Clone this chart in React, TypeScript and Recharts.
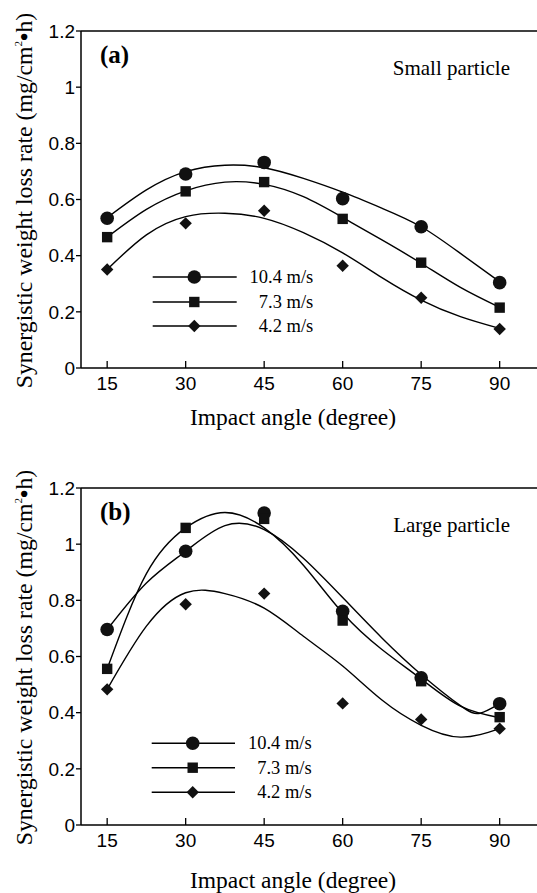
import { ComposedChart, Line, XAxis, YAxis, ReferenceLine } from 'recharts';

// measured impact angles (degree)
const angles = [15, 30, 45, 60, 75, 90];

// (a) small particle, measured rates
const smallFast = [0.533, 0.691, 0.732, 0.603, 0.503, 0.304];
const smallMid = [0.466, 0.629, 0.662, 0.531, 0.375, 0.215];
const smallSlow = [0.351, 0.515, 0.56, 0.364, 0.25, 0.139];

// (b) large particle, measured rates
const largeFast = [0.696, 0.975, 1.111, 0.761, 0.524, 0.432];
const largeMid = [0.556, 1.058, 1.09, 0.728, 0.512, 0.384];
const largeSlow = [0.483, 0.786, 0.824, 0.433, 0.376, 0.343];

// fitted curves
const fitAngles = [15, 22.5, 30, 37.5, 45, 52.5, 60, 67.5, 75, 82.5, 90];
const smallFastFit = [0.535, 0.634, 0.699, 0.722, 0.713, 0.675, 0.626, 0.569, 0.503, 0.408, 0.307];
const smallMidFit = [0.466, 0.565, 0.631, 0.662, 0.654, 0.61, 0.536, 0.456, 0.373, 0.287, 0.216];
const smallSlowFit = [0.351, 0.474, 0.539, 0.551, 0.533, 0.482, 0.41, 0.322, 0.242, 0.183, 0.141];

const largeFastAngles = [15, 22.5, 30, 37.5, 45, 52.5, 60, 67.5, 75, 82.5, 86.25, 90];
const largeFastFit = [0.696, 0.862, 0.975, 1.066, 1.052, 0.95, 0.81, 0.666, 0.536, 0.425, 0.398, 0.432];
const largeMidFit = [0.556, 0.895, 1.058, 1.113, 1.058, 0.925, 0.755, 0.625, 0.52, 0.423, 0.382];
const largeSlowFit = [0.483, 0.708, 0.827, 0.824, 0.772, 0.672, 0.566, 0.445, 0.355, 0.313, 0.343];

const speeds = ['10.4 m/s', '7.3 m/s', '4.2 m/s'];
const xTicks = [15, 30, 45, 60, 75, 90];
const yTicks = [0, 0.2, 0.4, 0.6, 0.8, 1, 1.2];

const rows = (xs: number[], vs: number[]) => xs.map((x, i) => ({ x, v: vs[i] }));

const SERIF = '"Liberation Serif", "Times New Roman", serif';
const SANS = '"Liberation Sans", Arial, sans-serif';

function Marker({ kind, cx, cy }: { kind: number; cx: number; cy: number }) {
  if (cx == null || cy == null) return null;
  if (kind === 0) return <circle cx={cx} cy={cy} r={6.8} fill="#111" />;
  if (kind === 1) return <rect x={cx - 5.2} y={cy - 5.2} width={10.4} height={10.4} fill="#111" />;
  const d = 6.2;
  return <polygon points={`${cx},${cy - d} ${cx + d},${cy} ${cx},${cy + d} ${cx - d},${cy}`} fill="#111" />;
}

const dotFor = (kind: number) => (p: any) => <Marker key={p.index} kind={kind} cx={p.cx} cy={p.cy} />;

function XTick({ x, y, payload }: any) {
  return (
    <g>
      <line x1={x} y1={y} x2={x} y2={y - 7} stroke="#000" strokeWidth={1.3} />
      <text x={x} y={y + 22} textAnchor="middle" fontFamily={SANS} fontSize={19} fill="#000">
        {payload.value}
      </text>
    </g>
  );
}

function Legend({ x1, x2, xm, xt, ys }: { x1: number; x2: number; xm: number; xt: number; ys: number[] }) {
  return (
    <g>
      {speeds.map((s, i) => (
        <g key={s}>
          <line x1={x1} y1={ys[i]} x2={x2} y2={ys[i]} stroke="#000" strokeWidth={1.4} />
          <Marker kind={i} cx={xm} cy={ys[i]} />
          <text x={xt} y={ys[i] + 6} textAnchor="end" fontFamily={SERIF} fontSize={18.5} fill="#000">
            {s}
          </text>
        </g>
      ))}
    </g>
  );
}

type PanelProps = {
  tag: string;
  title: string;
  top: number;
  height: number;
  marginTop: number;
  fits: { x: number; v: number }[][];
  points: number[][];
  legendYs: number[];
  legendX: [number, number, number, number];
  xTitleY: number;
};

function Panel({ tag, title, top, height, marginTop, fits, points, legendYs, legendX, xTitleY }: PanelProps) {
  const plotTop = marginTop;
  const plotH = 337;
  const midY = plotTop + plotH / 2;
  return (
    <div style={{ position: 'absolute', left: 0, top, width: 537, height, overflow: 'hidden' }}>
      <ComposedChart width={552} height={height} margin={{ top: marginTop, right: 0, left: 0, bottom: 0 }}>
        <XAxis
          dataKey="x"
          type="number"
          domain={[10, 100]}
          ticks={xTicks}
          tickSize={0}
          tickMargin={0}
          tickLine={false}
          tick={<XTick />}
          axisLine={{ stroke: '#000', strokeWidth: 1.5 }}
          height={height - marginTop - plotH}
        />
        <YAxis
          type="number"
          domain={[0, 1.2]}
          ticks={yTicks}
          width={81}
          tickSize={5}
          tickMargin={1}
          tickLine={{ stroke: '#000', strokeWidth: 1.3 }}
          axisLine={{ stroke: '#000', strokeWidth: 1.5 }}
          tick={{ fontFamily: SANS, fontSize: 19, fill: '#000' }}
          tickFormatter={(v: number) => String(v)}
        />
        <ReferenceLine y={1.2} stroke="#000" strokeWidth={1.5} />
        {fits.map((f, i) => (
          <Line
            key={'fit' + i}
            data={f}
            dataKey="v"
            type="natural"
            stroke="#000"
            strokeWidth={1.4}
            dot={false}
            isAnimationActive={false}
          />
        ))}
        {points.map((p, i) => (
          <Line
            key={'pts' + i}
            data={rows(angles, p)}
            dataKey="v"
            stroke="none"
            dot={dotFor(i)}
            activeDot={false}
            isAnimationActive={false}
          />
        ))}
        <text x={100} y={plotTop + 32} fontFamily={SERIF} fontWeight="bold" fontSize={25} fill="#000">
          {tag}
        </text>
        <text x={510} y={plotTop + 44} textAnchor="end" fontFamily={SERIF} fontSize={21} fill="#000">
          {title}
        </text>
        <Legend x1={legendX[0]} x2={legendX[1]} xm={legendX[2]} xt={legendX[3]} ys={legendYs} />
        <text
          x={32}
          y={midY + 1}
          transform={`rotate(-90, 32, ${midY + 1})`}
          textAnchor="middle"
          fontFamily={SERIF}
          fontSize={23.8}
          fill="#000"
        >
          Synergistic weight loss rate (mg/cm
          <tspan fontSize={11} dy={-10}>2</tspan>
          <tspan dy={10} fontWeight="bold">•</tspan>
          <tspan>h)</tspan>
        </text>
        <text x={293} y={xTitleY} textAnchor="middle" fontFamily={SERIF} fontSize={23.5} fill="#000">
          Impact angle (degree)
        </text>
      </ComposedChart>
    </div>
  );
}

export default function App() {
  return (
    <div style={{ position: 'absolute', left: 0, top: 0, width: 537, height: 893, background: '#fff' }}>
      <Panel
        tag="(a)"
        title="Small particle"
        top={0}
        height={440}
        marginTop={31}
        fits={[rows(fitAngles, smallFastFit), rows(fitAngles, smallMidFit), rows(fitAngles, smallSlowFit)]}
        points={[smallFast, smallMid, smallSlow]}
        legendYs={[277, 302, 326]}
        legendX={[152.7, 236.7, 194.3, 313.3]}
        xTitleY={425}
      />
      <Panel
        tag="(b)"
        title="Large particle"
        top={440}
        height={453}
        marginTop={48}
        fits={[rows(largeFastAngles, largeFastFit), rows(fitAngles, largeMidFit), rows(fitAngles, largeSlowFit)]}
        points={[largeFast, largeMid, largeSlow]}
        legendYs={[303.3, 327.7, 352.3]}
        legendX={[151.7, 235, 192.7, 311.7]}
        xTitleY={448}
      />
    </div>
  );
}
